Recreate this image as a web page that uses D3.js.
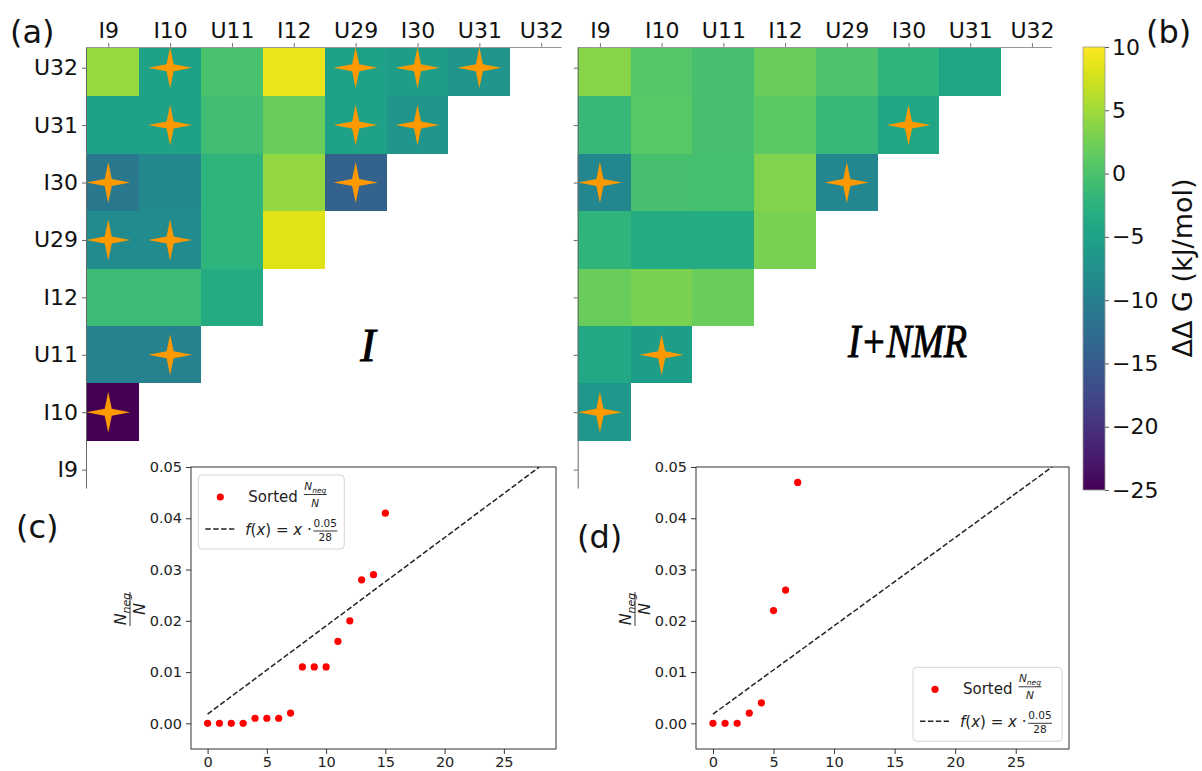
<!DOCTYPE html>
<html>
<head>
<meta charset="utf-8">
<script src="https://cdn.jsdelivr.net/npm/d3@7"></script>
<style>
  body { margin: 0; background: #fff; }
  svg { font-family: "DejaVu Sans", sans-serif; }
</style>
</head>
<body>
<div id="chart"></div>
<script>
// residues along the columns (left to right) and rows (top to bottom)
const residues = ["I9", "I10", "U11", "I12", "U29", "I30", "U31", "U32"];
const rowResidues = ["U32", "U31", "I30", "U29", "I12", "U11", "I10", "I9"];

// ddG (kJ/mol), one list per row from U32 down to I10, columns start at I9
const dgI = [
  [4.5, -5, 0, 9, -5, -5.7, -6.8],
  [-5, -5, -0.8, 2, -5, -6.7],
  [-11, -8.5, -2.2, 4.3, -14],
  [-8.2, -8.2, -2.2, 8.3],
  [-1.2, -1.2, -3.6],
  [-9.6, -9.6],
  [-25]
];
const dgNMR = [
  [3.7, 0.6, -0.3, 2, 0.2, -2.2, -4.3],
  [-1.5, 0.9, -0.3, 1.2, -1.5, -4.3],
  [-8.9, -0.3, -0.5, 3.4, -9],
  [-2.2, -3.6, -3.6, 3],
  [2, 3, 2],
  [-4, -5.7],
  [-6.4]
];
// significant pairs [row, column]
const starsI = [["U32","I10"],["U32","U29"],["U32","I30"],["U32","U31"],
                ["U31","I10"],["U31","U29"],["U31","I30"],
                ["I30","I9"],["I30","U29"],["U29","I9"],["U29","I10"],
                ["U11","I10"],["I10","I9"]];
const starsNMR = [["U31","I30"],["I30","I9"],["I30","U29"],["U11","I10"],["I10","I9"]];

const cbTicks = [-25, -20, -15, -10, -5, 0, 5, 10];

// sorted N_neg/N
const sortedI = [0, 0, 0, 0, 0.001, 0.001, 0.001, 0.002, 0.011, 0.011, 0.011, 0.016, 0.020, 0.028, 0.029, 0.041];
const sortedNMR = [0, 0, 0, 0.002, 0.004, 0.022, 0.026, 0.047];
const refX = [0, 28];
const refY = [0.0018, 0.05];
const xTicks = [0, 5, 10, 15, 20, 25];
const yTicks = [0, 0.01, 0.02, 0.03, 0.04, 0.05];

const W = 1202, H = 771;
const svg = d3.select('#chart').append('svg')
  .attr('width', W).attr('height', H)
  .style('background', 'white');
const defs = svg.append('defs');
const color = d3.scaleSequential(d3.interpolateViridis).domain([-25, 10]);

// four pointed star marker
const sparkle = {
  draw(ctx, size) {
    const r = Math.sqrt(size);
    const k = r * 0.16;
    ctx.moveTo(0, -r * 0.93);
    ctx.lineTo(k, -k);
    ctx.lineTo(r, 0);
    ctx.lineTo(k, k);
    ctx.lineTo(0, r * 0.93);
    ctx.lineTo(-k, k);
    ctx.lineTo(-r, 0);
    ctx.lineTo(-k, -k);
    ctx.closePath();
  }
};

function drawHeatmap(box, values, stars, withLabels, id) {
  const x = d3.scaleLinear().domain([-0.36, 7.32]).range([box.left, box.right]);
  const y = d3.scaleLinear().domain([-0.36, 7.32]).range([box.top, box.bottom]);

  defs.append('clipPath').attr('id', id).append('rect')
    .attr('x', box.left).attr('y', box.top)
    .attr('width', box.right - box.left).attr('height', box.bottom - box.top);

  const cells = values.flatMap((row, r) => row.map((v, c) => ({ r, c, v })));
  const g = svg.append('g');

  g.append('g').attr('clip-path', `url(#${id})`)
    .selectAll('rect').data(cells).join('rect')
    .attr('x', d => x(d.c - 0.5))
    .attr('y', d => y(d.r - 0.5))
    .attr('width', d => x(d.c + 0.5) - x(d.c - 0.5))
    .attr('height', d => y(d.r + 0.5) - y(d.r - 0.5))
    .attr('fill', d => color(d.v))
    .attr('shape-rendering', 'crispEdges');

  g.selectAll('path.star').data(stars).join('path')
    .attr('class', 'star')
    .attr('transform', d => `translate(${x(residues.indexOf(d[1]))},${y(rowResidues.indexOf(d[0]))})`)
    .attr('d', d3.symbol(sparkle, 484))
    .attr('fill', '#ff9900');

  const top = g.append('g').attr('transform', `translate(0,${box.top})`)
    .call(d3.axisTop(x).tickValues(d3.range(8)).tickFormat(i => residues[i])
      .tickSize(4).tickSizeOuter(0).tickPadding(5));
  top.select('.domain').attr('stroke', '#999');
  top.selectAll('.tick line').attr('stroke', '#777');
  top.selectAll('text').attr('font-size', 22).attr('fill', '#111')
    .style('font-family', '"DejaVu Sans", sans-serif');

  const left = g.append('g').attr('transform', `translate(${box.left},0)`)
    .call(d3.axisLeft(y).tickValues(d3.range(8))
      .tickFormat(i => withLabels ? rowResidues[i] : '')
      .tickSize(4).tickSizeOuter(0).tickPadding(4));
  left.select('.domain').attr('stroke', '#666');
  left.selectAll('.tick line').attr('stroke', '#666');
  left.selectAll('text').attr('font-size', 22).attr('fill', '#111')
    .style('font-family', '"DejaVu Sans", sans-serif');
}

drawHeatmap({ left: 86, right: 561, top: 47, bottom: 488 }, dgI, starsI, true, 'clipA');
drawHeatmap({ left: 577.7, right: 1051.7, top: 47, bottom: 488 }, dgNMR, starsNMR, false, 'clipB');

// colour bar
const cb = { left: 1083, width: 22, top: 47, bottom: 490 };
const grad = defs.append('linearGradient').attr('id', 'viridis')
  .attr('x1', 0).attr('y1', 1).attr('x2', 0).attr('y2', 0);
grad.selectAll('stop').data(d3.range(0, 1.0001, 0.05)).join('stop')
  .attr('offset', d => d)
  .attr('stop-color', d => d3.interpolateViridis(d));
svg.append('rect')
  .attr('x', cb.left).attr('y', cb.top)
  .attr('width', cb.width).attr('height', cb.bottom - cb.top)
  .attr('fill', 'url(#viridis)')
  .attr('stroke', '#999').attr('stroke-width', 0.8);
const cbScale = d3.scaleLinear().domain([-25, 10]).range([cb.bottom, cb.top]);
const cbAxis = svg.append('g').attr('transform', `translate(${cb.left + cb.width},0)`)
  .call(d3.axisRight(cbScale).tickValues(cbTicks).tickSize(4).tickSizeOuter(0).tickPadding(3));
cbAxis.select('.domain').remove();
cbAxis.selectAll('.tick line').attr('stroke', '#555');
cbAxis.selectAll('text').attr('font-size', 22).attr('fill', '#111')
  .style('font-family', '"DejaVu Sans", sans-serif');
svg.append('text')
  .attr('transform', 'translate(1192,268) rotate(-90)')
  .attr('text-anchor', 'middle')
  .attr('font-size', 27).attr('fill', '#111')
  .text('ΔΔ G (kJ/mol)');

// model labels inside the heatmaps
svg.append('text').attr('x', 368).attr('y', 361)
  .attr('text-anchor', 'middle')
  .style('font-family', '"Liberation Serif", serif').style('font-style', 'italic')
  .attr('font-size', 46).attr('fill', '#000')
  .attr('stroke', '#000').attr('stroke-width', 0.9)
  .text('I');
svg.append('text').attr('x', 848).attr('y', 357)
  .style('font-family', '"Liberation Serif", serif').style('font-style', 'italic')
  .attr('font-size', 46).attr('fill', '#000')
  .attr('stroke', '#000').attr('stroke-width', 0.9)
  .attr('textLength', 119).attr('lengthAdjust', 'spacingAndGlyphs')
  .text('I+NMR');

// small fraction helper: numerator (N_neg) over N
function nFraction(g, cx, yNum, yBar, yDen, big, small, halfW) {
  const num = g.append('text').attr('x', cx).attr('y', yNum)
    .attr('text-anchor', 'middle').attr('fill', '#222');
  num.append('tspan').attr('font-style', 'italic').attr('font-size', big).text('N');
  num.append('tspan').attr('font-style', 'italic').attr('font-size', small)
    .attr('dy', big * 0.25).text('neg');
  g.append('line').attr('x1', cx - halfW).attr('x2', cx + halfW)
    .attr('y1', yBar).attr('y2', yBar).attr('stroke', '#222').attr('stroke-width', 0.9);
  g.append('text').attr('x', cx).attr('y', yDen)
    .attr('text-anchor', 'middle').attr('font-style', 'italic')
    .attr('font-size', big).attr('fill', '#222').text('N');
}

function drawLegend(x0, y0, w) {
  const g = svg.append('g').attr('transform', `translate(${x0},${y0})`);
  g.append('rect').attr('width', w).attr('height', 74).attr('rx', 4)
    .attr('fill', 'white').attr('fill-opacity', 0.9)
    .attr('stroke', '#d5d5d5');
  g.append('circle').attr('cx', 22).attr('cy', 22).attr('r', 3.6).attr('fill', 'red');
  g.append('text').attr('x', 50).attr('y', 27).attr('font-size', 15).attr('fill', '#222').text('Sorted');
  nFraction(g, 117, 15, 19.5, 32, 10.5, 7.5, 11.5);

  g.append('line').attr('x1', 7).attr('x2', 36).attr('y1', 54).attr('y2', 54)
    .attr('stroke', '#222').attr('stroke-width', 1.5).attr('stroke-dasharray', '5.5,2.4');
  const f = g.append('text').attr('x', 47).attr('y', 60).attr('font-size', 15).attr('fill', '#222');
  f.append('tspan').attr('font-style', 'italic').text('f');
  f.append('tspan').text('(');
  f.append('tspan').attr('font-style', 'italic').text('x');
  f.append('tspan').text(') = ');
  f.append('tspan').attr('font-style', 'italic').text('x');
  f.append('tspan').text(' ·');
  g.append('text').attr('x', 127).attr('y', 51.5).attr('text-anchor', 'middle')
    .attr('font-size', 10.5).attr('fill', '#222').text('0.05');
  g.append('line').attr('x1', 115).attr('x2', 139).attr('y1', 56).attr('y2', 56)
    .attr('stroke', '#222').attr('stroke-width', 0.9);
  g.append('text').attr('x', 127).attr('y', 65.5).attr('text-anchor', 'middle')
    .attr('font-size', 10.5).attr('fill', '#222').text('28');
}

function drawScatter(box, values, legendAt, legendW) {
  const x = d3.scaleLinear().domain([-1.4, 29.4]).range([box.left, box.right]);
  const y = d3.scaleLinear().domain([-0.005, 0.05]).range([box.bottom, box.top]);
  const g = svg.append('g');

  g.append('rect').attr('x', box.left).attr('y', box.top)
    .attr('width', box.right - box.left).attr('height', box.bottom - box.top)
    .attr('fill', 'white');

  g.append('path').datum(d3.zip(refX, refY))
    .attr('d', d3.line().x(d => x(d[0])).y(d => y(d[1])))
    .attr('fill', 'none').attr('stroke', '#222')
    .attr('stroke-width', 1.5).attr('stroke-dasharray', '5.5,2.4');

  g.selectAll('circle').data(values).join('circle')
    .attr('cx', (d, i) => x(i)).attr('cy', d => y(d))
    .attr('r', 3.6).attr('fill', 'red');

  const xa = g.append('g').attr('transform', `translate(0,${box.bottom})`)
    .call(d3.axisBottom(x).tickValues(xTicks).tickSize(5).tickSizeOuter(0).tickPadding(3));
  const ya = g.append('g').attr('transform', `translate(${box.left},0)`)
    .call(d3.axisLeft(y).tickValues(yTicks).tickFormat(d3.format('.2f'))
      .tickSize(5).tickSizeOuter(0).tickPadding(4));
  [xa, ya].forEach(a => {
    a.select('.domain').remove();
    a.selectAll('.tick line').attr('stroke', '#333');
    a.selectAll('text').attr('font-size', 14.5).attr('fill', '#222')
      .style('font-family', '"DejaVu Sans", sans-serif');
  });

  g.append('rect').attr('x', box.left).attr('y', box.top)
    .attr('width', box.right - box.left).attr('height', box.bottom - box.top)
    .attr('fill', 'none').attr('stroke', '#333').attr('stroke-width', 1);

  // rotated N_neg/N label
  const lab = g.append('g')
    .attr('transform', `translate(${box.left - 62},609) rotate(-90)`);
  nFraction(lab, 0, -3.5, 1, 16, 16, 11, 17);

  drawLegend(legendAt[0], legendAt[1], legendW);
}

drawScatter({ left: 191, right: 556, top: 467, bottom: 749 }, sortedI, [198.3, 475], 146);
drawScatter({ left: 696, right: 1069, top: 467, bottom: 749 }, sortedNMR, [913, 667.3], 149);

// panel letters
const letters = [["(a)", 10, 43], ["(b)", 1146, 43], ["(c)", 16, 538], ["(d)", 577, 548]];
svg.selectAll('text.letter').data(letters).join('text')
  .attr('class', 'letter')
  .attr('x', d => d[1]).attr('y', d => d[2])
  .attr('font-size', 32).attr('fill', '#111')
  .text(d => d[0]);
</script>
</body>
</html>
